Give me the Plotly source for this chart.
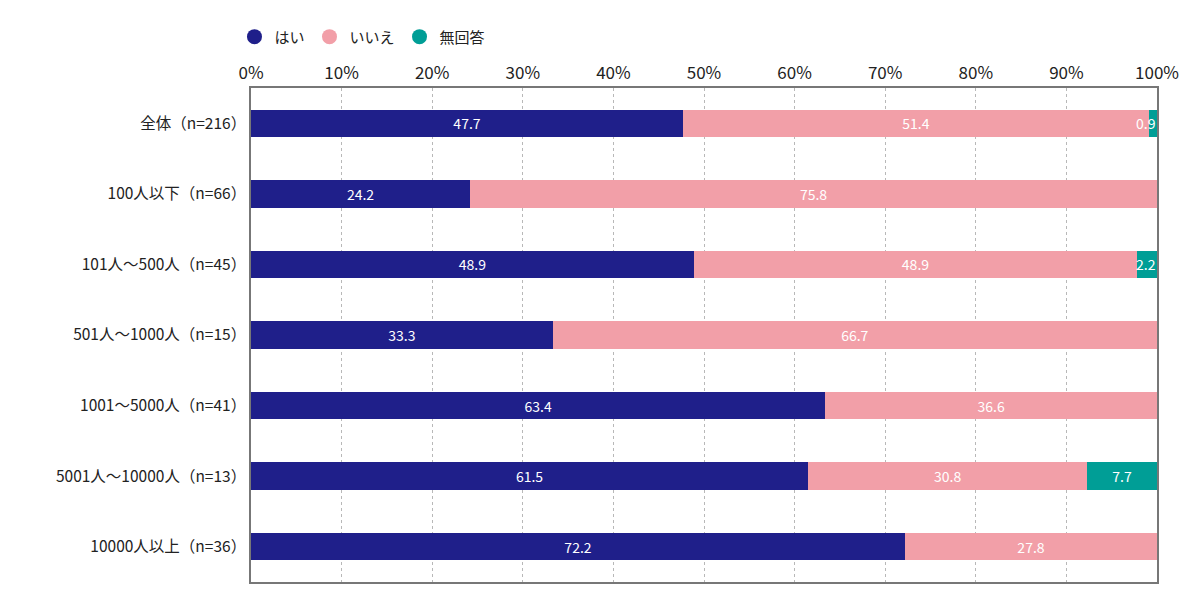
import plotly.graph_objects as go

# 回答データ (%)
groups = ['全体(n=216)', '100人以下(n=66)', '101人～500人(n=45)', '501人～1000人(n=15)',
          '1001～5000人(n=41)', '5001人～10000人(n=13)', '10000人以上(n=36)']
hai = [47.7, 24.2, 48.9, 33.3, 63.4, 61.5, 72.2]
iie = [51.4, 75.8, 48.9, 66.7, 36.6, 30.8, 27.8]
muka = [0.9, 0.0, 2.2, 0.0, 0.0, 7.7, 0.0]
x_ticks = [0, 10, 20, 30, 40, 50, 60, 70, 80, 90, 100]

series = [('はい', hai, 'rgb(31,31,138)'),
          ('いいえ', iie, 'rgb(242,159,168)'),
          ('無回答', muka, 'rgb(0,158,150)')]

# 全角括弧で表示
labels = [g.replace('(', '（').replace(')', '）') for g in groups]

fig = go.Figure()
for name, vals, col in series:
    # 細すぎる区間のラベルは後で注釈として右寄せ
    txt = ['%.1f' % v if v >= 5 else '' for v in vals]
    fig.add_trace(go.Bar(
        y=labels, x=vals, orientation='h', name=name,
        marker=dict(color=col, line_width=0),
        text=txt,
        textposition='inside', insidetextanchor='middle', textangle=0,
        constraintext='none',
        textfont=dict(color='white', size=14),
        showlegend=False, width=0.39))
    # 凡例用の丸
    fig.add_trace(go.Scatter(
        x=[None], y=[None], mode='markers', name=name,
        marker=dict(color=col, size=15, symbol='circle')))

for lab, a, b, c in zip(labels, hai, iie, muka):
    if 0 < c < 5:
        fig.add_annotation(x=a + b + c, y=lab, text='%.1f' % c, showarrow=False,
                           xanchor='right', xshift=1,
                           font=dict(color='white', size=14))

# ページ余白(8px)の分だけ小さく
fig.update_layout(
    barmode='stack',
    width=1192, height=590,
    margin=dict(l=243, r=43, t=80, b=16, autoexpand=False),
    plot_bgcolor='white', paper_bgcolor='white',
    font=dict(family='Noto Sans CJK JP', size=15, color='#222'),
    legend=dict(orientation='h', xref='container', yref='container',
                x=0.190, y=0.951, xanchor='left', yanchor='middle',
                font=dict(size=15), traceorder='normal'),
    bargap=0.61,
)
fig.update_xaxes(
    range=[0, 100], side='top', tickvals=x_ticks,
    ticktext=['%d%%' % t for t in x_ticks],
    tickfont=dict(size=17),
    showgrid=True, gridcolor='#b8b8b8', griddash='dot', gridwidth=1,
    showline=True, linecolor='#777', linewidth=1.5, mirror=True,
    zeroline=False, ticks='', automargin=False, fixedrange=True)
fig.update_yaxes(
    autorange='reversed', showline=True, linecolor='#777', linewidth=1.5,
    mirror=True, ticks='', ticklabelstandoff=0, tickfont=dict(size=15.5),
    automargin=False, fixedrange=True)

fig.write_html("out.html")
